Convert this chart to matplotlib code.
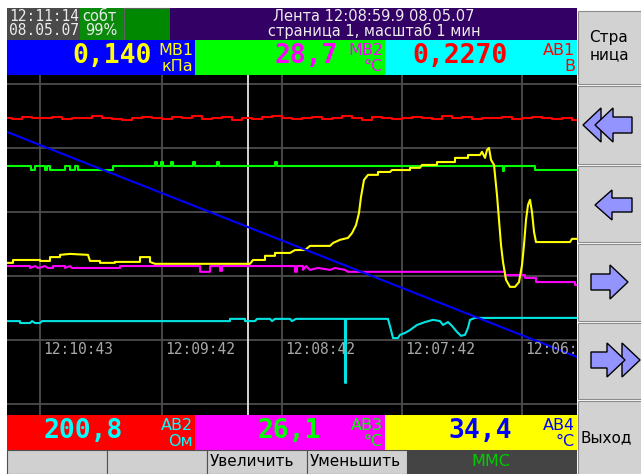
import numpy as np
import matplotlib
matplotlib.use('Agg')
import matplotlib.pyplot as plt
from matplotlib.patches import Rectangle, Polygon

# tape window: x = seconds from the left edge, y = % of the 5 grid divisions
tick_seconds = [16.5, 77.5, 137.5, 197.5, 257.5]
tick_labels = ['12:10:43', '12:09:42', '12:08:42', '12:07:42', '12:06:42']
cursor_t = 120.5

red_v = [89.4, 89.1, 89.7, 89.4, 89.4, 89.7, 89.1, 89.4, 89.4, 90.0,
         89.4, 89.1, 88.8, 89.4, 89.7, 89.4, 89.1, 89.7, 89.4, 90.0,
         89.1, 89.4, 89.7, 88.8, 89.4, 89.1, 89.7, 90.0, 89.4, 89.1,
         89.4, 89.7, 89.1, 89.4, 90.0, 89.4, 88.8, 89.7, 89.4, 89.1,
         89.4, 89.7, 89.4, 89.1, 90.0, 89.4, 89.7, 89.1, 89.4, 89.4,
         89.7, 89.1, 89.4, 89.7, 89.4, 89.1, 89.4, 88.8]

blue_t = [0, 285]
blue_v = [85.0, 14.7]

green_t = [0, 12, 12, 14, 14, 19, 19, 20, 20, 21.5, 21.5, 29, 29, 31.5, 31.5, 34, 34,
           35.5, 35.5, 53, 53, 74, 74, 75, 75, 77, 77, 78, 78, 82, 82, 83, 83, 93, 93,
           94, 94, 105, 105, 106, 106, 134, 134, 135, 135, 248, 248, 248.5, 248.5,
           264, 264, 285]
green_v = [74.4, 74.4, 73.1, 73.1, 74.4, 74.4, 73.1, 73.1, 74.4, 74.4, 73.1, 73.1, 74.4,
           74.4, 73.1, 73.1, 74.4, 74.4, 73.1, 73.1, 74.4, 74.4, 75.6, 75.6, 74.4, 74.4,
           75.6, 75.6, 74.4, 74.4, 75.6, 75.6, 74.4, 74.4, 75.6, 75.6, 74.4, 74.4, 75.6,
           75.6, 74.4, 74.4, 75.6, 75.6, 74.4, 74.4, 72.8, 72.8, 74.4, 74.4, 73.1, 73.1]

yellow_t = [0, 3, 3, 16.5, 16.5, 21.5, 21.5, 26.5, 26.5, 31.5, 40.5, 41.5, 46.5, 46.5,
            54, 54, 66.5, 66.5, 71.5, 71.5, 74, 101.5, 121.5, 123, 129, 129, 134, 134,
            141.5, 144, 149, 151.5, 161.5, 163, 166.5, 170.5, 172.5, 174.5, 176, 177,
            178.5, 180.5, 185.5, 185.5, 191.5, 192.5, 201.5, 201.5, 206.5, 207.5, 215,
            215, 224, 224, 230.5, 230.5, 236.5, 237.5, 239, 240, 241, 242, 243.5, 245,
            246, 247, 248, 249.5, 251.5, 254, 256, 257.5, 258.5, 259.5, 260.5, 261.5,
            262.5, 263.5, 264.5, 281.5, 282.5, 285]
yellow_v = [44.1, 44.1, 45.0, 45.0, 44.7, 44.7, 45.9, 45.9, 46.6, 46.9, 46.6, 44.7, 44.7,
            44.1, 44.1, 44.4, 44.4, 45.9, 45.9, 44.4, 43.8, 43.8, 43.8, 45.0, 45.0, 46.3,
            46.3, 47.2, 47.2, 48.1, 48.1, 49.4, 49.4, 50.3, 51.3, 51.9, 53.4, 55.9, 59.7,
            64.7, 70.0, 71.6, 71.6, 72.5, 72.5, 73.1, 73.1, 73.8, 73.8, 74.7, 74.7, 75.6,
            75.6, 76.9, 76.9, 77.8, 77.8, 78.8, 76.9, 79.4, 80.0, 76.3, 74.7, 65.3, 57.5,
            49.7, 44.4, 38.8, 36.6, 36.6, 38.1, 43.4, 49.7, 57.5, 62.2, 63.8, 60.0, 53.8,
            50.6, 50.6, 51.6, 51.6]

magenta_t = [0, 11.5, 11.5, 14, 15.5, 19, 20.5, 23, 23, 29, 29, 31.5, 32.5, 36.5, 56.5,
             56.5, 96.5, 96.5, 101.5, 101.5, 106.5, 106.5, 107.5, 107.5, 144, 144, 145,
             145, 148, 148, 149.5, 151.5, 155.5, 161.5, 164, 169, 170.5, 249, 249, 259,
             259, 264.5, 264.5, 284, 284, 285]
magenta_v = [43.1, 43.1, 42.5, 43.1, 42.5, 43.1, 42.5, 42.5, 43.1, 43.1, 42.5, 43.1, 42.5,
             42.5, 42.5, 43.1, 43.1, 41.3, 41.3, 43.1, 43.1, 41.6, 41.6, 43.1, 43.1, 41.3,
             41.3, 43.1, 43.1, 41.9, 43.1, 41.9, 42.5, 41.9, 42.5, 41.9, 41.3, 41.3, 40.3,
             40.3, 39.4, 39.4, 38.1, 38.1, 37.2, 37.2]

cyan_t = [0, 6.5, 6.5, 11.5, 12.5, 14, 16.5, 17.5, 111.5, 111.5, 119, 119, 124, 125,
          131.5, 132.5, 134, 141.5, 142.5, 144.5, 169, 169, 169.5, 169.5, 190.5, 192,
          193, 195.5, 196.5, 199, 201.5, 205, 209, 213, 216.5, 218, 220.5, 222.5, 225,
          227, 229, 230.5, 231.5, 234, 285]
cyan_v = [25.9, 25.9, 25.3, 25.3, 25.9, 25.3, 25.3, 25.9, 25.9, 26.6, 26.6, 25.9, 25.9,
          26.6, 26.6, 25.9, 26.6, 26.6, 25.9, 26.6, 26.6, 6.6, 6.6, 26.6, 26.6, 23.1,
          20.6, 20.6, 21.6, 22.2, 23.1, 24.7, 25.6, 26.3, 25.9, 24.7, 25.6, 24.4, 22.5,
          21.3, 21.6, 23.8, 26.3, 26.9, 26.9]

# channel readouts: (value, name, unit)
top_values = [('0,140', 'МВ1', 'кПа'), ('28,7', 'МВ2', '°C'), ('0,2270', 'АВ1', 'В')]
bottom_values = [('200,8', 'АВ2', 'Ом'), ('26,1', 'АВ3', '°C'), ('34,4', 'АВ4', '°C')]

W, H = 641, 474
fig = plt.figure(figsize=(W / 100, H / 100), dpi=100)
fig.patch.set_facecolor('white')

# screen chrome in pixel coordinates
ui = fig.add_axes([0, 0, 1, 1])
ui.set_xlim(0, W)
ui.set_ylim(H, 0)
ui.axis('off')


def box(x0, y0, x1, y1, fc, ec='none', lw=0):
    ui.add_patch(Rectangle((x0, y0), x1 - x0, y1 - y0, fc=fc, ec=ec, lw=lw))


def arrow(tip, tail, cy, hh, sh, hl):
    d = 1 if tail > tip else -1
    b = tip + d * hl
    pts = [(tip, cy), (b, cy - hh), (b, cy - sh), (tail, cy - sh),
           (tail, cy + sh), (b, cy + sh), (b, cy + hh)]
    ui.add_patch(Polygon(pts, closed=True, fc='#9494ff', ec='black', lw=1.0))


# header
box(7, 8, 80, 40, '#4a4a4a')
box(80, 8, 124, 40, '#0a8a0a')
box(124, 8, 170, 40, '#008800', ec='#606060', lw=0.8)
box(170, 8, 577, 40, '#330066')
hdr = dict(color='#ececec', fontsize=10.5, va='center', family='DejaVu Sans Mono')
ui.text(79, 16.5, '12:11:14', ha='right', **hdr)
ui.text(79, 30.5, '08.05.07', ha='right', **hdr)
ui.text(82, 16.5, 'собт', ha='left', **dict(hdr, family='DejaVu Sans'))
ui.text(85, 30.5, '99%', ha='left', **dict(hdr, family='DejaVu Sans'))
ui.text(374, 16.5, 'Лента 12:08:59.9 08.05.07', ha='center', **dict(hdr, family='DejaVu Sans'))
ui.text(374, 31, 'страница 1, масштаб 1 мин', ha='center', **dict(hdr, family='DejaVu Sans'))

# readout rows
top_cols = [('#0000ff', '#ffff00'), ('#00ff00', '#ff00ff'), ('#00ffff', '#ff0000')]
bot_cols = [('#ff0000', '#00ffff'), ('#ff00ff', '#00ff00'), ('#ffff00', '#0000ff')]
cells = [(7, 195), (195, 385), (385, 577)]
top_right = [152, 338, 508]
bot_right = [123, 321, 512]
val_style = dict(ha='right', va='center', fontsize=19, fontweight='bold',
                 family='DejaVu Sans Mono')
for (x0, x1), (fc, tc), (val, name, unit), xr in zip(cells, top_cols, top_values, top_right):
    box(x0, 40, x1, 75, fc)
    ui.text(xr, 56, val, color=tc, **val_style)
    ui.text(x1 - 2, 50.5, name, ha='right', va='center', color=tc, fontsize=11.5)
    ui.text(x1 - 2, 66, unit, ha='right', va='center', color=tc, fontsize=11.5)
for (x0, x1), (fc, tc), (val, name, unit), xr in zip(cells, bot_cols, bottom_values, bot_right):
    box(x0, 415, x1, 450, fc)
    ui.text(xr, 431, val, color=tc, **val_style)
    ui.text(x1 - 2, 426, name, ha='right', va='center', color=tc, fontsize=11.5)
    ui.text(x1 - 2, 441, unit, ha='right', va='center', color=tc, fontsize=11.5)

# bottom buttons
for x0, x1, label in [(7, 107, ''), (107, 207, ''), (207, 307, 'Увеличить'),
                      (307, 407, 'Уменьшить')]:
    box(x0, 450, x1, 474, '#d0d0d0', ec='#505050', lw=0.8)
    ui.text(x0 + 3, 462, label, ha='left', va='center', color='black', fontsize=11)
box(407, 450, 577, 474, '#444444')
ui.text(491, 461, 'ММС', ha='center', va='center', color='#00cc00', fontsize=11.5)

# right column buttons
edges = [10, 85, 165, 243, 322, 400, 476]
for y0, y1 in zip(edges[:-1], edges[1:]):
    box(578, y0 + 1, 642, y1 - 1, '#d2d2d2', ec='#8a8a8a', lw=0.8)
ui.text(609, 37.5, 'Стра', ha='center', va='center', color='black', fontsize=11)
ui.text(609, 55, 'ница', ha='center', va='center', color='black', fontsize=11)
ui.text(580, 438, 'Выход', ha='left', va='center', color='black', fontsize=11)
arrow(583, 601, 125, 17, 8, 18)
arrow(595, 632, 125, 17, 8, 18)
arrow(595, 632, 205, 15, 7, 17)
arrow(628, 591, 282, 17, 8, 18)
arrow(640, 622, 360, 17, 8, 18)
arrow(625, 591, 360, 17, 8, 18)

# tape chart
ax = fig.add_axes([7 / W, (H - 415) / H, 570 / W, 340 / H])
ax.set_facecolor('black')
ax.set_xlim(0, 285)
ax.set_ylim(-3.44, 102.8)
ax.set_xticks(tick_seconds)
ax.set_yticks([0, 20, 40, 60, 80, 100])
ax.grid(True, color='#4c4c4c', lw=1.3)
ax.tick_params(length=0, labelbottom=False, labelleft=False)
for s in ax.spines.values():
    s.set_visible(False)
ax.axvline(cursor_t, color='#e6e6e6', lw=1.3)

lw = 1.5
ax.plot(np.linspace(0, 285, len(red_v)), red_v, color='#ff0000', lw=lw, drawstyle='steps-mid')
ax.plot(green_t, green_v, color='#00ff00', lw=lw)
ax.plot(cyan_t, cyan_v, color='#00e4e4', lw=lw)
ax.plot(magenta_t, magenta_v, color='#ff00ff', lw=lw)
ax.plot(yellow_t, yellow_v, color='#ffff00', lw=lw)
ax.plot(blue_t, blue_v, color='#0000ff', lw=lw)

for t, lab in zip(tick_seconds, tick_labels):
    ax.text(t + 1.5, 16.9, lab, ha='left', va='center', color='#a8a8a8',
            fontsize=10.5, family='DejaVu Sans Mono', clip_on=True)

fig.savefig('out.png', dpi=100)
